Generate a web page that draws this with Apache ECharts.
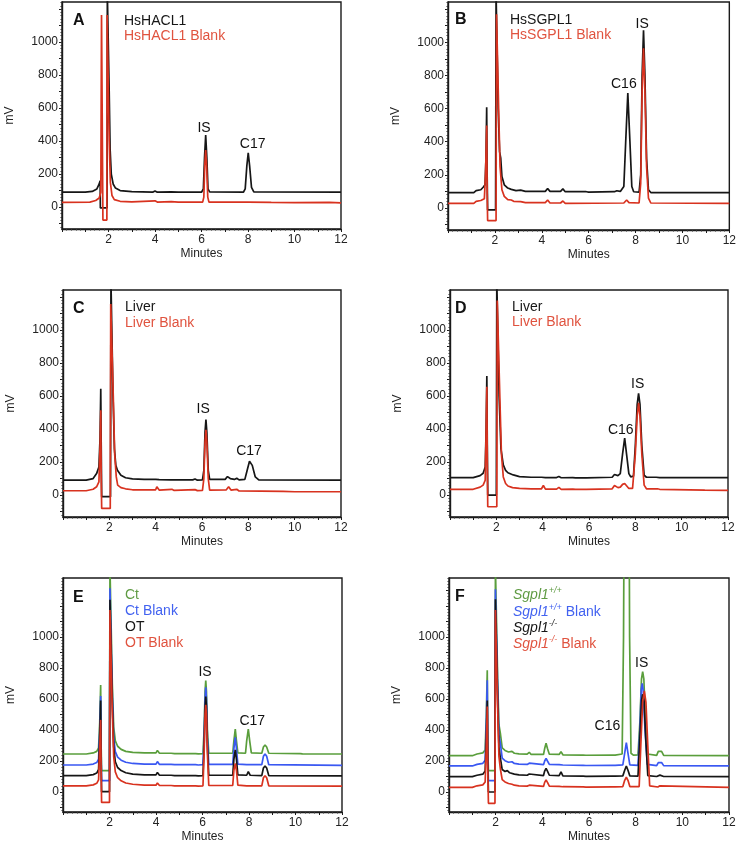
<!DOCTYPE html>
<html>
<head>
<meta charset="utf-8">
<script src="https://cdn.jsdelivr.net/npm/echarts@6/dist/echarts.min.js"></script>
<style>html,body{margin:0;padding:0;background:#fff}#c{width:739px;height:846px}</style>
</head>
<body>
<div id="c"></div>
<script>
// ---------- DATA (minutes, mV) ----------
const xTickLabels = [2, 4, 6, 8, 10, 12];
const yTickLabels = [0, 200, 400, 600, 800, 1000];

// Panel A
const hacl1 = [[0,90],[1.0,90],[1.3,95],[1.5,110],[1.6,140],[1.64,160],[1.65,-5],[1.94,-5],[1.95,1300],[2.0,1300],[2.03,700],[2.07,350],[2.12,200],[2.2,140],[2.3,115],[2.5,100],[3.0,93],[3.9,90],[4.0,98],[4.1,90],[4.7,92],[5.0,90],[6.0,90],[6.08,110],[6.13,300],[6.18,436],[6.23,300],[6.28,110],[6.35,92],[7.8,90],[7.88,110],[7.95,250],[8.01,329],[8.07,250],[8.15,120],[8.25,92],[12,90]];
const hacl1Blank = [[0,28],[1.2,30],[1.45,40],[1.6,55],[1.67,90],[1.7,1164],[1.74,1164],[1.76,-79],[1.93,-79],[1.94,1164],[1.98,1164],[2.03,400],[2.08,150],[2.15,70],[2.25,45],[2.5,35],[3.0,32],[4.0,38],[4.1,30],[4.7,33],[5.0,30],[6.05,30],[6.1,60],[6.14,250],[6.18,345],[6.22,250],[6.27,60],[6.32,30],[8.0,30],[9,28],[10,27],[11.5,28],[12,25]];
// Panel B
const sgpl1 = [[0,92],[1.1,92],[1.2,105],[1.4,110],[1.5,125],[1.58,140],[1.62,300],[1.65,608],[1.67,200],[1.69,-12],[2.03,-12],[2.05,1300],[2.1,1300],[2.14,600],[2.2,340],[2.25,300],[2.3,190],[2.4,140],[2.55,120],[2.7,112],[2.9,105],[3.1,108],[3.3,100],[3.5,100],[4.15,100],[4.25,118],[4.35,100],[4.8,100],[4.9,115],[5.0,98],[5.9,98],[5.95,104],[6.0,96],[7.1,98],[7.2,104],[7.35,100],[7.5,130],[7.58,400],[7.67,693],[7.76,400],[7.84,130],[7.92,98],[8.15,95],[8.22,200],[8.28,800],[8.34,1073],[8.4,800],[8.47,300],[8.55,110],[8.65,93],[12,92]];
const sgpl1Blank = [[0,28],[1.1,28],[1.2,40],[1.4,45],[1.55,55],[1.6,200],[1.65,498],[1.67,100],[1.69,-76],[2.05,-76],[2.07,1169],[2.11,1169],[2.16,600],[2.22,250],[2.3,110],[2.4,70],[2.55,50],[2.7,48],[2.8,40],[3.1,38],[3.3,32],[4.15,32],[4.25,48],[4.35,30],[4.8,30],[4.9,42],[5.0,28],[7.5,30],[7.62,48],[7.72,32],[8.15,30],[8.22,150],[8.28,700],[8.34,963],[8.4,700],[8.47,250],[8.55,60],[8.65,30],[12,28]];
// Panel C
const liverC = [[0,91],[1.0,91],[1.3,100],[1.45,130],[1.55,170],[1.6,350],[1.63,644],[1.65,300],[1.67,-10],[2.05,-10],[2.07,1300],[2.12,1300],[2.16,600],[2.22,280],[2.28,180],[2.35,150],[2.42,145],[2.5,120],[2.7,105],[3.0,98],[3.5,95],[4.0,95],[4.05,105],[4.15,93],[4.65,92],[4.72,100],[4.8,92],[5.6,92],[5.7,97],[5.8,90],[6.02,92],[6.08,150],[6.13,380],[6.17,457],[6.21,380],[6.27,150],[6.33,95],[7.0,95],[7.1,112],[7.15,116],[7.22,100],[7.4,95],[7.5,102],[7.6,92],[7.85,95],[7.95,150],[8.05,205],[8.1,213],[8.17,180],[8.3,110],[8.45,92],[12,91]];
const liverCBlank = [[0,26],[1.0,26],[1.3,35],[1.45,50],[1.55,80],[1.6,300],[1.63,514],[1.65,100],[1.67,-81],[2.04,-81],[2.06,1158],[2.12,1158],[2.17,600],[2.23,250],[2.3,110],[2.36,60],[2.42,72],[2.5,45],[2.7,38],[3.0,32],[4.0,32],[4.05,50],[4.15,30],[4.7,35],[4.8,28],[5.7,33],[5.8,27],[6.02,28],[6.08,100],[6.13,320],[6.17,396],[6.21,320],[6.27,100],[6.33,30],[7.05,32],[7.15,50],[7.25,30],[7.5,35],[7.6,25],[9.5,22],[10,20],[12,20]];
// Panel D
const liverD = [[0,106],[1.0,106],[1.3,118],[1.43,132],[1.52,170],[1.56,400],[1.59,721],[1.61,300],[1.63,0],[2.0,0],[2.02,1300],[2.07,1300],[2.12,600],[2.2,280],[2.3,183],[2.4,150],[2.5,135],[2.73,122],[3.0,112],[3.5,108],[3.95,108],[4.03,118],[4.12,106],[4.6,106],[4.7,112],[4.8,105],[5.3,106],[5.35,110],[5.42,104],[5.75,104],[5.8,110],[5.88,104],[7.0,108],[7.1,125],[7.17,130],[7.25,118],[7.35,130],[7.45,250],[7.54,345],[7.62,250],[7.72,130],[7.8,110],[7.92,115],[8.0,300],[8.08,550],[8.14,616],[8.2,550],[8.28,300],[8.38,120],[8.48,108],[8.9,108],[8.95,112],[9.05,106],[12,106]];
const liverDBlank = [[0,35],[1.0,35],[1.3,48],[1.43,60],[1.52,90],[1.56,400],[1.59,657],[1.61,200],[1.63,-71],[2.02,-71],[2.04,1179],[2.1,1179],[2.15,600],[2.22,250],[2.3,110],[2.4,70],[2.5,55],[2.7,45],[3.0,40],[3.5,38],[3.95,38],[4.03,58],[4.12,36],[4.6,36],[4.7,47],[4.8,35],[5.3,36],[5.35,42],[5.42,34],[5.75,35],[5.8,42],[5.88,34],[7.0,38],[7.1,58],[7.17,62],[7.25,45],[7.35,48],[7.45,65],[7.54,70],[7.62,58],[7.72,40],[7.88,40],[8.0,250],[8.08,480],[8.14,559],[8.2,480],[8.28,250],[8.38,60],[8.48,38],[8.95,38],[9.05,35],[11,30],[12,28]];
// Panel E
const ctE = [[0,245],[1.0,245],[1.3,252],[1.45,262],[1.53,285],[1.58,450],[1.62,690],[1.64,300],[1.66,138],[2.0,138],[2.02,1450],[2.07,1450],[2.12,700],[2.18,420],[2.25,330],[2.35,295],[2.5,275],[2.7,262],[3.0,255],[3.5,252],[4.0,252],[4.06,268],[4.15,250],[4.65,250],[4.72,258],[4.8,248],[5.7,248],[5.75,254],[5.82,246],[6.02,248],[6.07,400],[6.11,650],[6.14,718],[6.17,650],[6.21,400],[6.27,250],[7.3,250],[7.35,330],[7.41,406],[7.46,330],[7.52,252],[7.85,250],[7.9,330],[7.97,406],[8.03,330],[8.1,252],[8.55,250],[8.62,290],[8.69,303],[8.76,290],[8.85,250],[10.2,248],[10.25,254],[10.3,246],[12,245]];
const ctBlankE = [[0,174],[1.0,174],[1.3,180],[1.45,190],[1.53,212],[1.58,400],[1.62,619],[1.64,250],[1.66,73],[2.0,73],[2.02,1314],[2.07,1314],[2.12,640],[2.18,350],[2.25,260],[2.35,225],[2.5,205],[2.7,192],[3.0,184],[3.5,180],[4.0,180],[4.06,196],[4.15,178],[4.65,178],[4.72,186],[4.8,176],[5.7,176],[5.75,182],[5.82,174],[6.02,176],[6.07,350],[6.11,600],[6.14,675],[6.17,600],[6.21,350],[6.27,178],[7.3,178],[7.35,280],[7.41,353],[7.46,280],[7.52,180],[7.9,176],[7.97,188],[8.05,176],[8.55,176],[8.62,230],[8.69,245],[8.76,230],[8.85,176],[12,172]];
const otE = [[0,105],[1.0,105],[1.3,112],[1.45,122],[1.53,145],[1.58,350],[1.62,590],[1.64,200],[1.66,2],[2.0,2],[2.02,1239],[2.07,1239],[2.12,580],[2.18,290],[2.25,195],[2.35,158],[2.5,138],[2.7,124],[3.0,115],[3.5,110],[4.0,110],[4.06,126],[4.15,108],[4.65,108],[4.72,116],[4.8,106],[5.7,106],[5.75,112],[5.82,104],[6.02,106],[6.07,300],[6.11,550],[6.14,615],[6.17,550],[6.21,300],[6.27,108],[7.3,108],[7.35,210],[7.41,271],[7.46,210],[7.52,110],[7.9,108],[7.97,131],[8.05,108],[8.55,106],[8.62,155],[8.69,168],[8.76,155],[8.85,106],[12,104]];
const otBlankE = [[0,39],[1.0,39],[1.3,46],[1.45,56],[1.53,78],[1.58,280],[1.62,465],[1.64,150],[1.66,-67],[2.0,-67],[2.02,1174],[2.07,1174],[2.12,520],[2.18,230],[2.25,130],[2.35,92],[2.5,72],[2.7,58],[3.0,50],[3.5,44],[4.0,44],[4.06,58],[4.15,42],[4.65,42],[4.72,48],[4.8,40],[5.7,40],[5.75,48],[5.82,38],[6.02,40],[6.07,250],[6.11,500],[6.14,563],[6.17,500],[6.21,250],[6.27,42],[7.3,42],[7.35,140],[7.41,185],[7.46,140],[7.52,44],[7.9,40],[7.97,48],[8.05,40],[8.55,40],[8.62,92],[8.69,105],[8.76,92],[8.85,40],[12,38]];
// Panel F
const wtF = [[0,234],[1.0,234],[1.2,245],[1.45,252],[1.55,270],[1.6,500],[1.64,785],[1.66,300],[1.69,138],[1.97,138],[1.99,1450],[2.04,1450],[2.09,700],[2.14,434],[2.2,380],[2.28,284],[2.4,268],[2.55,258],[2.7,262],[2.8,250],[3.0,246],[3.35,244],[3.44,256],[3.52,242],[4.05,242],[4.1,280],[4.16,314],[4.22,280],[4.3,244],[4.72,242],[4.8,260],[4.88,240],[5.75,238],[5.8,244],[5.87,237],[7.0,238],[7.05,244],[7.12,238],[7.42,245],[7.48,1000],[7.53,2600],[7.62,3000],[7.7,2600],[7.74,1000],[7.8,250],[7.9,238],[8.1,240],[8.18,450],[8.25,730],[8.3,776],[8.35,730],[8.42,450],[8.5,245],[8.9,236],[8.97,262],[9.04,271],[9.11,262],[9.2,236],[12,234]];
const wtBlankF = [[0,168],[1.0,168],[1.2,178],[1.45,185],[1.55,205],[1.6,450],[1.64,720],[1.66,250],[1.69,73],[1.97,73],[1.99,1308],[2.04,1308],[2.09,640],[2.14,370],[2.2,315],[2.28,218],[2.4,202],[2.55,192],[2.7,195],[2.8,184],[3.0,180],[3.35,178],[3.44,186],[3.52,176],[4.05,176],[4.1,200],[4.16,217],[4.22,200],[4.3,178],[4.72,176],[4.8,188],[4.88,174],[5.75,172],[5.8,177],[5.87,171],[7.0,172],[7.05,176],[7.12,172],[7.45,175],[7.53,250],[7.6,318],[7.67,250],[7.75,175],[8.1,172],[8.18,400],[8.24,660],[8.28,701],[8.32,660],[8.4,400],[8.5,178],[8.9,170],[8.97,190],[9.04,198],[9.11,190],[9.2,170],[12,168]];
const koF = [[0,99],[1.0,99],[1.2,108],[1.45,115],[1.55,135],[1.6,350],[1.64,590],[1.66,200],[1.69,0],[1.97,0],[1.99,1243],[2.04,1243],[2.09,560],[2.14,290],[2.2,220],[2.28,145],[2.4,132],[2.5,138],[2.6,124],[2.8,115],[3.0,110],[3.35,108],[3.44,116],[3.52,106],[4.05,106],[4.1,135],[4.16,153],[4.22,135],[4.3,108],[4.72,106],[4.8,129],[4.88,104],[5.75,102],[5.8,107],[5.87,101],[7.0,102],[7.05,106],[7.12,102],[7.45,104],[7.53,140],[7.6,168],[7.67,140],[7.75,104],[8.1,102],[8.18,350],[8.25,590],[8.3,630],[8.36,590],[8.43,350],[8.52,106],[8.9,100],[8.97,106],[9.04,109],[9.11,106],[9.2,100],[12,99]];
const koBlankF = [[0,30],[1.0,30],[1.2,40],[1.45,46],[1.55,65],[1.6,300],[1.64,552],[1.66,150],[1.69,-73],[1.97,-73],[1.99,1174],[2.04,1174],[2.09,520],[2.14,230],[2.2,150],[2.28,80],[2.4,65],[2.55,55],[2.7,50],[2.8,44],[3.0,40],[3.35,38],[3.44,44],[3.52,36],[4.05,36],[4.1,62],[4.16,77],[4.22,62],[4.3,38],[4.72,36],[4.8,45],[4.88,34],[5.75,33],[5.8,38],[5.87,32],[7.0,33],[7.05,36],[7.12,33],[7.45,35],[7.53,75],[7.6,95],[7.67,75],[7.75,35],[8.15,35],[8.22,300],[8.3,580],[8.37,652],[8.44,580],[8.52,300],[8.6,40],[8.95,32],[9.04,40],[9.12,32],[12,30]];

// Peak annotations: [minutes, mV, text]
const peaksA = [[6.11,479,'IS'],[8.2,382,'C17']];
const peaksB = [[8.28,1109,'IS'],[7.5,749,'C16']];
const peaksC = [[6.05,518,'IS'],[8.03,264,'C17']];
const peaksD = [[8.1,671,'IS'],[7.37,396,'C16']];
const peaksE = [[6.11,770,'IS'],[8.14,454,'C17']];
const peaksF = [[8.26,834,'IS'],[6.79,426,'C16']];

// Legend texts
const legendA = ['HsHACL1','HsHACL1 Blank'];
const legendB = ['HsSGPL1','HsSGPL1 Blank'];
const legendC = ['Liver','Liver Blank'];
const legendD = ['Liver','Liver Blank'];
const legendE = ['Ct','Ct Blank','OT','OT Blank'];
const legendF = [['Sgpl1','+/+',''],['Sgpl1','+/+',' Blank'],['Sgpl1','-/-',''],['Sgpl1','-/-',' Blank']];
const panelLetters = ['A','B','C','D','E','F'];

// ---------- STYLE / LAYOUT ----------
const FONT = "'Liberation Sans', Arial, Helvetica, sans-serif";
const BLACK = '#161616', RED = '#d8321f', GREEN = '#5a9e3c', BLUE = '#3a58f2';
const RED_T = '#e0533f', GREEN_T = '#5f9b43', BLUE_T = '#4262f0';

const rowYRange12 = [-133, 1243];
const rowYRange3 = [-129, 1380];

const panels = [
  {grid:{left:62,top:2,width:279,height:227}, y:rowYRange12, traces:[[hacl1,BLACK],[hacl1Blank,RED]], peaks:peaksA,
   letter:[73,21], legend:{x:124,ys:[21,36],items:legendA,colors:[BLACK,RED_T]}},
  {grid:{left:448,top:2,width:282,height:228}, y:rowYRange12, traces:[[sgpl1,BLACK],[sgpl1Blank,RED]], peaks:peaksB,
   letter:[455,20], legend:{x:510,ys:[20,35],items:legendB,colors:[BLACK,RED_T]}},
  {grid:{left:63,top:290,width:278,height:227}, y:rowYRange12, traces:[[liverC,BLACK],[liverCBlank,RED]], peaks:peaksC,
   letter:[73,309], legend:{x:125,ys:[307,323],items:legendC,colors:[BLACK,RED_T]}},
  {grid:{left:450,top:290,width:278,height:227}, y:rowYRange12, traces:[[liverD,BLACK],[liverDBlank,RED]], peaks:peaksD,
   letter:[455,309], legend:{x:512,ys:[307,322],items:legendD,colors:[BLACK,RED_T]}},
  {grid:{left:63,top:578,width:279,height:234}, y:rowYRange3, traces:[[ctE,GREEN],[ctBlankE,BLUE],[otE,BLACK],[otBlankE,RED]], peaks:peaksE,
   letter:[73,598], legend:{x:125,ys:[595,611,627,643],items:legendE,colors:[GREEN_T,BLUE_T,BLACK,RED_T]}},
  {grid:{left:449,top:578,width:280,height:234}, y:rowYRange3, traces:[[wtF,GREEN],[wtBlankF,BLUE],[koF,BLACK],[koBlankF,RED]], peaks:peaksF,
   letter:[455,597], legend:{x:513,ys:[594,611,627,643],items:legendF,colors:[GREEN_T,BLUE_T,BLACK,RED_T], rich:true}}
];

function range(a, b, step) { const r = []; for (let v = a; v <= b + 1e-9; v += step) r.push(Math.round(v)); return r; }

const grids = [], xAxes = [], yAxes = [], series = [], graphics = [];
panels.forEach((p, i) => {
  grids.push(Object.assign({show:true, borderColor:'#1a1a1a', borderWidth:1.4, backgroundColor:'rgba(0,0,0,0)'}, p.grid));
  xAxes.push({
    type:'value', gridIndex:i, min:0, max:12, interval:1,
    name:'Minutes', nameLocation:'middle', nameGap:19,
    nameTextStyle:{fontFamily:FONT, fontSize:12, color:'#222'},
    axisLine:{show:true, onZero:false, lineStyle:{color:'#1a1a1a', width:1.4}},
    axisTick:{show:true, length:3, lineStyle:{color:'#1a1a1a', width:1}},
    minorTick:{show:true, splitNumber:5, length:1.5, lineStyle:{color:'#333', width:1}},
    axisLabel:{fontFamily:FONT, fontSize:12, color:'#222', margin:5,
      formatter: v => (xTickLabels.indexOf(v) >= 0 ? String(v) : '')},
    splitLine:{show:false}
  });
  const yMax = p.y[1];
  yAxes.push({
    type:'value', gridIndex:i, min:p.y[0], max:yMax, position:'left',
    name:'mV', nameLocation:'middle', nameGap:46,
    nameTextStyle:{fontFamily:FONT, fontSize:12, color:'#222'},
    axisLine:{show:true, onZero:false, lineStyle:{color:'#1a1a1a', width:1.4}},
    axisTick:{show:true, length:3, customValues: range(-100, Math.floor(yMax/100)*100, 100), lineStyle:{color:'#1a1a1a', width:1}},
    axisLabel:{show:true, customValues: yTickLabels, fontFamily:FONT, fontSize:12, color:'#222', margin:4,
      formatter: v => String(Math.round(v))},
    splitLine:{show:false}
  });
  yAxes.push({
    type:'value', gridIndex:i, min:p.y[0], max:yMax, position:'left',
    axisLine:{show:false, onZero:false},
    axisTick:{show:true, length:1.5, customValues: range(-120, Math.floor(yMax/20)*20, 20), lineStyle:{color:'#333', width:1}},
    axisLabel:{show:false}, splitLine:{show:false}
  });
  p.traces.forEach(([d, c]) => {
    series.push({type:'line', xAxisIndex:i, yAxisIndex:2*i, data:d, showSymbol:false, symbol:'none',
      clip:true, lineStyle:{color:c, width:1.7}, silent:true, animation:false});
  });
  series.push({type:'scatter', xAxisIndex:i, yAxisIndex:2*i, symbolSize:1, silent:true, animation:false, z:10,
    itemStyle:{color:'rgba(0,0,0,0)', opacity:1},
    data: p.peaks.map(pk => ({value:[pk[0], pk[1]], label:{formatter:pk[2]}})),
    label:{show:true, position:'inside', fontFamily:FONT, fontSize:14, color:'#111', opacity:1}});
  graphics.push({type:'text', x:p.letter[0], y:p.letter[1], z:100,
    style:{text:panelLetters[i], font:'bold 16px ' + FONT, fill:'#111', verticalAlign:'middle', align:'left'}});
  p.legend.items.forEach((it, k) => {
    const col = p.legend.colors[k];
    if (p.legend.rich) {
      graphics.push({type:'text', x:p.legend.x, y:p.legend.ys[k], z:100,
        style:{text:'{i|' + it[0] + '}{s|' + it[1] + '}' + (it[2] ? '{n|' + it[2] + '}' : ''),
          verticalAlign:'middle', align:'left',
          rich:{
            i:{fontFamily:FONT, fontSize:14, fontStyle:'italic', fill:col, lineHeight:16, verticalAlign:'bottom'},
            s:{fontFamily:FONT, fontSize:9, fontStyle:'italic', fill:col, lineHeight:16, verticalAlign:'top'},
            n:{fontFamily:FONT, fontSize:14, fill:col, lineHeight:16, verticalAlign:'bottom'}
          }}});
    } else {
      graphics.push({type:'text', x:p.legend.x, y:p.legend.ys[k], z:100,
        style:{text:it, font:'14px ' + FONT, fill:col, verticalAlign:'middle', align:'left'}});
    }
  });
});

const chart = echarts.init(document.getElementById('c'), null, {renderer:'canvas'});
chart.setOption({
  animation:false,
  backgroundColor:'#fff',
  grid:grids, xAxis:xAxes, yAxis:yAxes, series:series, graphic:graphics
});
</script>
</body>
</html>
